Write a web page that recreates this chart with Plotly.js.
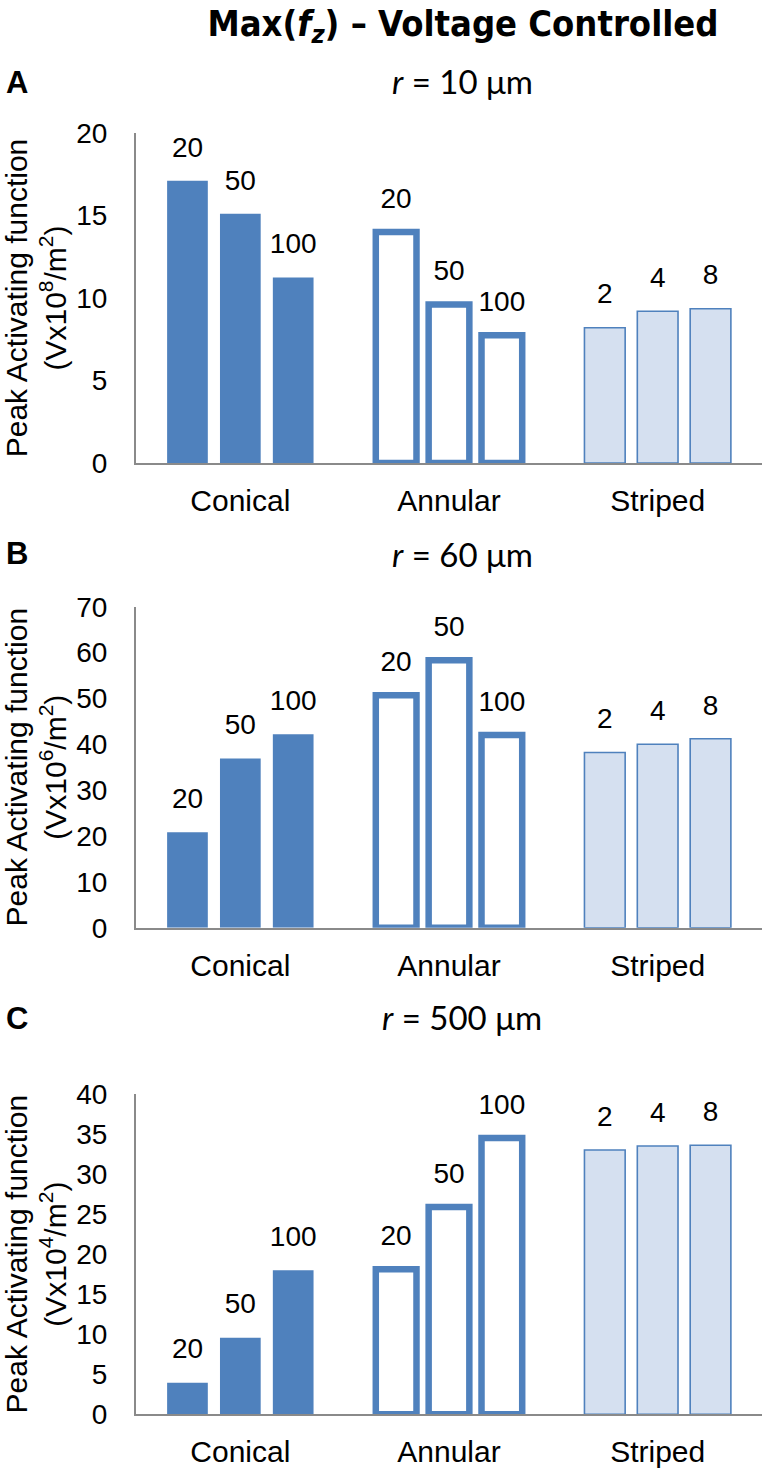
<!DOCTYPE html>
<html>
<head>
<meta charset="utf-8">
<script src="https://cdn.plot.ly/plotly-3.0.1.min.js"></script>
<style>html,body{margin:0;padding:0;background:#fff;}#chart{width:768px;height:1470px;}</style>
</head>
<body>
<div id="chart"></div>
<script>
// ---- data ----
const categories = ['Conical', 'Annular', 'Striped'];
const diamLabels = ['20', '50', '100'];      // labels for Conical / Annular bars
const stripeLabels = ['2', '4', '8'];        // labels for Striped bars

// Panel A: r = 10 um (Vx10^8/m^2)
const aConical = [17.1, 15.1, 11.25];
const aAnnular = [14.0, 9.6, 7.75];
const aStriped = [8.2, 9.2, 9.35];
// Panel B: r = 60 um (Vx10^6/m^2)
const bConical = [20.8, 36.9, 42.2];
const bAnnular = [50.7, 58.3, 42.0];
const bStriped = [38.2, 40.0, 41.2];
// Panel C: r = 500 um (Vx10^4/m^2)
const cConical = [3.95, 9.57, 18.0];
const cAnnular = [18.1, 25.9, 34.5];
const cStriped = [33.0, 33.5, 33.6];

const panelTitles = ['<i>r</i> = 10 μm', '<i>r</i> = 60 μm', '<i>r</i> = 500 μm'];
const panelLetters = ['A', 'B', 'C'];
const yUnits = ['(Vx10<sup>8</sup>/m<sup>2</sup>)', '(Vx10<sup>6</sup>/m<sup>2</sup>)', '(Vx10<sup>4</sup>/m<sup>2</sup>)'];
const yRanges = [[0, 20], [0, 70], [0, 40]];
const yDticks = [5, 10, 5];

// ---- styles ----
const BLUE = '#4f81bd';
const fills = [BLUE, '#ffffff', '#d5e0f0'];
const lineWidths = [0, 6.5, 1.6];
const FONT = 'Liberation Sans, Arial, sans-serif';

const panels = [
  [aConical, aAnnular, aStriped],
  [bConical, bAnnular, bStriped],
  [cConical, cAnnular, cStriped]
];
const domains = [[0.68503, 0.90952], [0.36891, 0.58728], [0.03789, 0.25578]];

const traces = [];
const layout = {
  width: 768, height: 1470,
  margin: {l: 136, r: 6, t: 0, b: 0},
  paper_bgcolor: '#fff', plot_bgcolor: '#fff',
  showlegend: false,
  barmode: 'group', bargap: 0.24, bargroupgap: 0.23,
  scattermode: 'group', scattergap: 0.24,
  title: {
    text: 'Max(<i>f<sub>z</sub></i>) – Voltage Controlled',
    x: 463 / 768, xanchor: 'center', y: 1 - 23 / 1470, yanchor: 'middle',
    font: {family: 'Liberation Sans Narrow, DejaVu Sans Condensed, Arial Narrow, sans-serif', size: 36, color: '#000', weight: 'bold'}
  },
  annotations: []
};

panels.forEach((vals, p) => {
  const sfx = p === 0 ? '' : String(p + 1);
  const xa = 'x' + sfx, ya = 'y' + sfx;
  for (let s = 0; s < 3; s++) {
    const ys = vals.map(v => v[s]);
    traces.push({
      type: 'bar', x: categories, y: ys, xaxis: xa, yaxis: ya,
      marker: {color: fills, line: {color: BLUE, width: lineWidths}},
      hoverinfo: 'skip'
    });
  }
  for (let s = 0; s < 3; s++) {
    const ys = vals.map(v => v[s]);
    const txt = [diamLabels[s], diamLabels[s], stripeLabels[s]];
    traces.push({
      type: 'scatter', mode: 'markers+text', x: categories, y: ys, xaxis: xa, yaxis: ya,
      text: txt, textposition: 'top center',
      textfont: {family: FONT, size: 28, color: '#000'},
      marker: {size: 26, opacity: 0},
      cliponaxis: false, hoverinfo: 'skip'
    });
  }
  layout['xaxis' + sfx] = {
    anchor: ya, domain: [0, 1], type: 'category',
    showline: true, linecolor: '#8a8a8a', linewidth: 2,
    showgrid: false, zeroline: false, ticks: '',
    ticklabelstandoff: 10,
    tickfont: {family: FONT, size: 30, color: '#000'},
    fixedrange: true
  };
  layout['yaxis' + sfx] = {
    anchor: xa, domain: domains[p], range: yRanges[p], dtick: yDticks[p], tick0: 0,
    showline: true, linecolor: '#8a8a8a', linewidth: 2,
    showgrid: false, zeroline: false, ticks: '',
    ticklabelstandoff: 21,
    tickfont: {family: FONT, size: 28, color: '#000'},
    title: {text: 'Peak Activating function<br>' + yUnits[p], font: {family: FONT, size: 30, color: '#000'}, standoff: 15},
    automargin: false,
    fixedrange: true
  };
});

const letterY = [82, 553, 1019];
const subY = [81, 554, 1017];
for (let p = 0; p < 3; p++) {
  layout.annotations.push({
    text: '<b>' + panelLetters[p] + '</b>', xref: 'paper', yref: 'paper',
    x: (17 - 136) / 626, y: 1 - letterY[p] / 1470, xanchor: 'center', yanchor: 'middle',
    showarrow: false, font: {family: FONT, size: 31, color: '#000'}
  });
  layout.annotations.push({
    text: panelTitles[p], xref: 'paper', yref: 'paper',
    x: (462 - 136) / 626, y: 1 - subY[p] / 1470, xanchor: 'center', yanchor: 'middle',
    showarrow: false, font: {family: 'Lato, Open Sans, sans-serif', size: 33, color: '#000'}
  });
}

Plotly.newPlot('chart', traces, layout, {displayModeBar: false, staticPlot: true});
</script>
</body>
</html>
